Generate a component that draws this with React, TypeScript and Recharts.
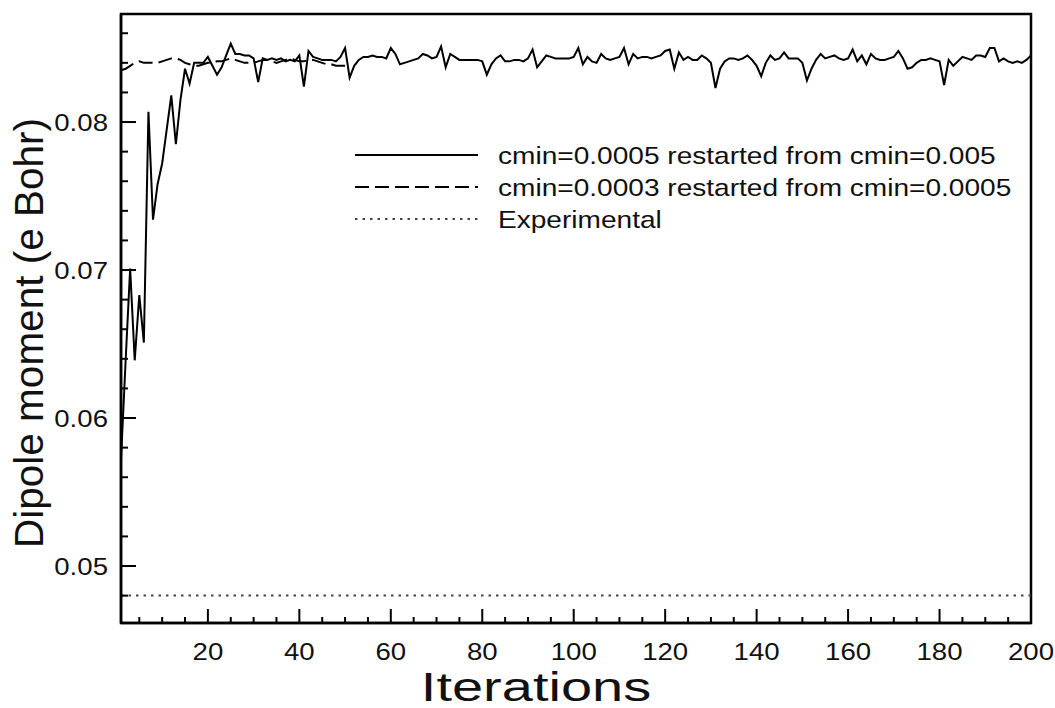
import React from "react";
import { LineChart, Line, XAxis, YAxis, ReferenceLine, ReferenceArea, Legend } from "recharts";

const solidValues: number[] = [
  0.0572, 0.0638, 0.0701, 0.0639, 0.0683, 0.0651, 0.0807, 0.0734, 0.0758, 0.0772,
  0.0795, 0.0818, 0.0785, 0.0815, 0.0836, 0.0826, 0.0840, 0.0840, 0.0840, 0.0844,
  0.0838, 0.0832, 0.0837, 0.0845, 0.0853, 0.0846, 0.0846, 0.0845, 0.0845, 0.0843,
  0.0827, 0.0843, 0.0842, 0.0843, 0.0842, 0.0843, 0.0841, 0.0842, 0.0841, 0.0845,
  0.0824, 0.0848, 0.0844, 0.0843, 0.0842, 0.0842, 0.0842, 0.0841, 0.0844, 0.0850,
  0.0830, 0.0838, 0.0842, 0.0844, 0.0844, 0.0845, 0.0844, 0.0844, 0.0843, 0.0850,
  0.0846, 0.0839, 0.0840, 0.0841, 0.0842, 0.0843, 0.0846, 0.0845, 0.0843, 0.0844,
  0.0851, 0.0837, 0.0846, 0.0844, 0.0842, 0.0842, 0.0842, 0.0842, 0.0842, 0.0841,
  0.0832, 0.0839, 0.0843, 0.0845, 0.0841, 0.0841, 0.0842, 0.0842, 0.0841, 0.0843,
  0.0849, 0.0837, 0.0841, 0.0845, 0.0844, 0.0843, 0.0843, 0.0843, 0.0843, 0.0844,
  0.0850, 0.0839, 0.0844, 0.0841, 0.0840, 0.0846, 0.0843, 0.0842, 0.0843, 0.0844,
  0.0850, 0.0839, 0.0846, 0.0843, 0.0844, 0.0844, 0.0843, 0.0844, 0.0845, 0.0848,
  0.0849, 0.0836, 0.0847, 0.0842, 0.0844, 0.0842, 0.0842, 0.0845, 0.0843, 0.0840,
  0.0823, 0.0836, 0.0841, 0.0843, 0.0843, 0.0842, 0.0843, 0.0845, 0.0842, 0.0838,
  0.0831, 0.0840, 0.0845, 0.0842, 0.0843, 0.0847, 0.0843, 0.0843, 0.0843, 0.0840,
  0.0828, 0.0836, 0.0842, 0.0846, 0.0843, 0.0844, 0.0845, 0.0843, 0.0842, 0.0843,
  0.0849, 0.0841, 0.0845, 0.0839, 0.0846, 0.0843, 0.0842, 0.0842, 0.0843, 0.0844,
  0.0848, 0.0843, 0.0836, 0.0837, 0.0840, 0.0842, 0.0842, 0.0843, 0.0842, 0.0841,
  0.0825, 0.0842, 0.0838, 0.0841, 0.0844, 0.0843, 0.0842, 0.0845, 0.0845, 0.0844,
  0.0850, 0.0850, 0.0841, 0.0843, 0.0841, 0.0840, 0.0841, 0.0840, 0.0842, 0.0845,
];

const dashedValues: number[] = [
  0.0835, 0.0836, 0.0838, 0.0840, 0.0841, 0.0840, 0.0840, 0.0840, 0.0840, 0.0841,
  0.0842, 0.0843, 0.0843, 0.0842, 0.0840, 0.0839, 0.0838, 0.0838, 0.0839, 0.0840,
  0.0840, 0.0841, 0.0841, 0.0842, 0.0843, 0.0842, 0.0841, 0.0840, 0.0840, 0.0840,
  0.0841, 0.0842, 0.0842, 0.0841, 0.0840, 0.0841, 0.0842, 0.0843, 0.0842, 0.0841,
  0.0841, 0.0842, 0.0842, 0.0841, 0.0840, 0.0839, 0.0839, 0.0838, 0.0838, 0.0838,
];

const experimentalValue = 0.048;

const xTicks: number[] = [5, 10, 15, 20, 25, 30, 35, 40, 45, 50, 55, 60, 65, 70, 75, 80, 85, 90, 95, 100,
  105, 110, 115, 120, 125, 130, 135, 140, 145, 150, 155, 160, 165, 170, 175, 180, 185, 190, 195, 200];
const xMajorLabels: number[] = [20, 40, 60, 80, 100, 120, 140, 160, 180, 200];

const yTicks: number[] = [0.048, 0.05, 0.052, 0.054, 0.056, 0.058, 0.06, 0.062, 0.064, 0.066, 0.068,
  0.07, 0.072, 0.074, 0.076, 0.078, 0.08, 0.082, 0.084, 0.086];
const yMajorLabels: string[] = ["0.05", "0.06", "0.07", "0.08"];

const legendLabels: string[] = [
  "cmin=0.0005 restarted from cmin=0.005",
  "cmin=0.0003 restarted from cmin=0.0005",
  "Experimental",
];

const data = solidValues.map((v, i) => ({
  it: i + 1,
  solid: v,
  dashed: i < dashedValues.length ? dashedValues[i] : undefined,
}));

const FONT = "'Liberation Sans', Arial, Helvetica, sans-serif";
const Y_MIN = 0.04615;
const Y_MAX = 0.0873;
const TICK_FS = 24;
const TICK_SX = 1.15;

const XTick = (props: any) => {
  const { x, y, payload } = props;
  const v = payload.value;
  const major = xMajorLabels.includes(v);
  return (
    <g>
      <line x1={x} x2={x} y1={y} y2={y - (major ? 14 : 6)} stroke="#000" strokeWidth={2} />
      {major && (
        <text
          transform={`translate(${x},${y + 37}) scale(${TICK_SX},1)`}
          textAnchor="middle"
          fontSize={TICK_FS}
          fontFamily={FONT}
          fill="#111"
        >
          {v}
        </text>
      )}
    </g>
  );
};

const YTick = (props: any) => {
  const { x, y, payload } = props;
  const v: number = payload.value;
  const label = v.toFixed(2);
  const major = Math.abs(v * 100 - Math.round(v * 100)) < 1e-6;
  return (
    <g>
      <line x1={x} x2={x + (major ? 15 : 7)} y1={y} y2={y} stroke="#000" strokeWidth={2} />
      {major && yMajorLabels.includes(label) && (
        <text
          transform={`translate(${x - 13},${y + 8.5}) scale(${TICK_SX},1)`}
          textAnchor="end"
          fontSize={TICK_FS}
          fontFamily={FONT}
          fill="#111"
        >
          {label}
        </text>
      )}
    </g>
  );
};

const LegendBox = () => (
  <svg width={700} height={110} style={{ display: "block" }}>
    {legendLabels.map((lab, i) => {
      const yy = 17 + i * 32;
      const dash = i === 0 ? undefined : i === 1 ? "14 6" : "2.5 5";
      return (
        <g key={lab}>
          <line x1={5} x2={128} y1={yy} y2={yy} stroke={i === 2 ? "#444" : "#000"} strokeWidth={2} strokeDasharray={dash} />
          <text
            transform={`translate(148,${yy + 8.5}) scale(1.17,1)`}
            fontSize={24}
            fontFamily={FONT}
            fill="#111"
          >
            {lab}
          </text>
        </g>
      );
    })}
  </svg>
);

export default function App() {
  return (
    <div style={{ position: "absolute", left: 0, top: 0, width: 1055, height: 708, background: "#fff" }}>
      <LineChart width={1055} height={708} data={data} margin={{ top: 14, right: 24, bottom: 0, left: 0 }}>
        <XAxis
          dataKey="it"
          type="number"
          domain={[1, 200]}
          ticks={xTicks}
          interval={0}
          allowDataOverflow
          height={85}
          tickSize={0}
          tickMargin={0}
          tickLine={false}
          axisLine={{ stroke: "#000", strokeWidth: 2.5 }}
          tick={<XTick />}
          label={() => (
            <text
              transform="translate(536,701) scale(1.4,1)"
              textAnchor="middle"
              fontSize={40}
              fontFamily={FONT}
              fill="#111"
            >
              Iterations
            </text>
          )}
        />
        <YAxis
          type="number"
          domain={[Y_MIN, Y_MAX]}
          ticks={yTicks}
          interval={0}
          allowDataOverflow
          width={121}
          tickSize={0}
          tickMargin={0}
          tickLine={false}
          axisLine={{ stroke: "#000", strokeWidth: 2.5 }}
          tick={<YTick />}
          label={() => (
            <text
              transform="translate(43,333) rotate(-90)"
              textAnchor="middle"
              fontSize={40.5}
              fontFamily={FONT}
              fill="#111"
            >
              Dipole moment (e Bohr)
            </text>
          )}
        />
        <ReferenceArea x1={1} x2={200} y1={Y_MIN} y2={Y_MAX} fill="none" stroke="#000" strokeWidth={2.5} ifOverflow="visible" />
        <ReferenceLine y={experimentalValue} stroke="#444" strokeWidth={2} strokeDasharray="2.5 5" />
        <Line dataKey="dashed" stroke="#000" strokeWidth={2} strokeDasharray="14 6" dot={false} isAnimationActive={false} connectNulls={false} />
        <Line dataKey="solid" stroke="#000" strokeWidth={2} dot={false} isAnimationActive={false} />
        <Legend
          layout="horizontal"
          verticalAlign="middle"
          align="center"
          content={() => <LegendBox />}
          wrapperStyle={{ position: "absolute", left: 350, top: 138, width: 700, height: 110 }}
        />
      </LineChart>
    </div>
  );
}
